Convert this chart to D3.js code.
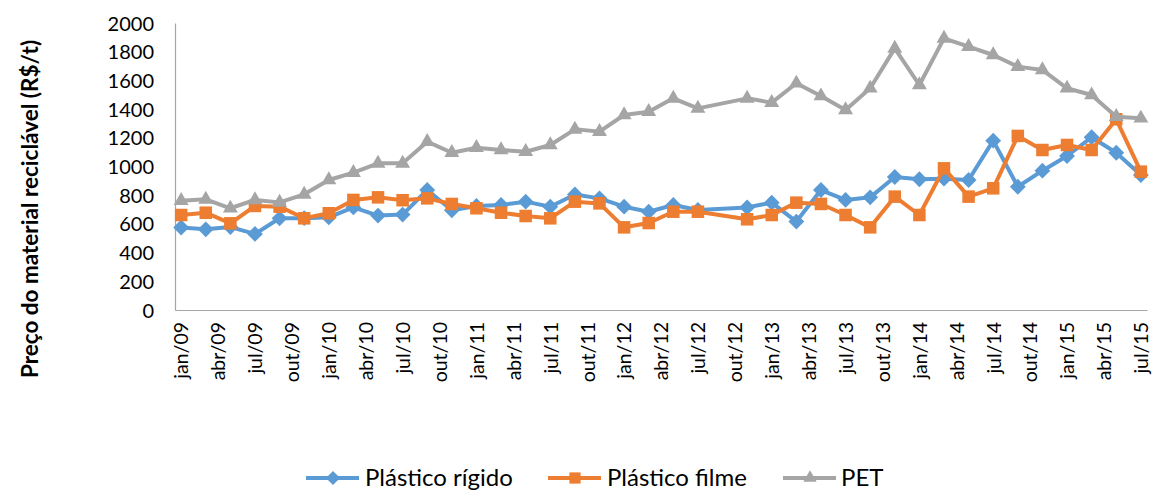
<!DOCTYPE html>
<html>
<head>
<meta charset="utf-8">
<script src="https://cdn.jsdelivr.net/npm/d3@7"></script>
<style>
  html, body { margin: 0; padding: 0; background: #fff; }
  svg { display: block; }
  text { font-family: Lato, "Open Sans", sans-serif; fill: #000; }
</style>
</head>
<body>
<svg id="chart" width="1153" height="490"></svg>
<script>
// Monthly category axis, jan/09 .. jul/15
const monthNames = ["jan", "fev", "mar", "abr", "mai", "jun", "jul", "ago", "set", "out", "nov", "dez"];
const months = [];
for (let y = 9; y <= 15; y++) {
  for (let m = 0; m < 12; m++) {
    if (y === 15 && m > 6) break;
    months.push(monthNames[m] + "/" + String(y).padStart(2, "0"));
  }
}

// Labelled every three months
const tickLabels = months.filter((d, i) => i % 3 === 0);

// Survey dates (bimonthly, set/12 missing)
const dates = [
  "jan/09", "mar/09", "mai/09", "jul/09", "set/09", "nov/09",
  "jan/10", "mar/10", "mai/10", "jul/10", "set/10", "nov/10",
  "jan/11", "mar/11", "mai/11", "jul/11", "set/11", "nov/11",
  "jan/12", "mar/12", "mai/12", "jul/12", "nov/12",
  "jan/13", "mar/13", "mai/13", "jul/13", "set/13", "nov/13",
  "jan/14", "mar/14", "mai/14", "jul/14", "set/14", "nov/14",
  "jan/15", "mar/15", "mai/15", "jul/15"
];

const plasticoRigido = [
  575, 562, 578, 530, 639, 640,
  646, 715, 658, 665, 836, 695,
  725, 732, 755, 720, 805, 778,
  720, 685, 732, 697, 715,
  748, 616, 836, 767, 785, 927,
  911, 915, 906, 1180, 859, 971,
  1073, 1204, 1096, 941
];

const plasticoFilme = [
  662, 678, 604, 725, 720, 639,
  674, 767, 785, 765, 778, 739,
  709, 678, 655, 639, 755, 743,
  576, 606, 685, 685, 632,
  662, 748, 739, 662, 576, 790,
  662, 987, 790, 848, 1213, 1115,
  1150, 1115, 1329, 964
];

const pet = [
  762, 771, 709, 767, 750, 806,
  906, 957, 1022, 1022, 1173, 1096,
  1131, 1115, 1103, 1150, 1259, 1243,
  1359, 1382, 1475, 1405, 1475,
  1445, 1580, 1491, 1394, 1545, 1823,
  1568, 1893, 1835, 1777, 1696, 1673,
  1545, 1498, 1347, 1336
];

const yTicks = [0, 200, 400, 600, 800, 1000, 1200, 1400, 1600, 1800, 2000];

const series = [
  { name: "Plástico rígido", values: plasticoRigido, color: "#5B9BD5", symbol: d3.symbolDiamond2, size: 160 },
  { name: "Plástico filme", values: plasticoFilme, color: "#ED7D31", symbol: d3.symbolSquare2, size: 200 },
  { name: "PET", values: pet, color: "#A5A5A5", symbol: d3.symbolTriangle2, size: 160 }
];

const plot = { left: 175, right: 1147, top: 23, bottom: 310 };
const svg = d3.select("#chart");

const x = d3.scalePoint().domain(months).range([plot.left, plot.right]).padding(0.5);
const y = d3.scaleLinear().domain([0, 2000]).range([plot.bottom, plot.top]);

// Y axis
const yAxis = svg.append("g")
  .attr("transform", `translate(${plot.left},0)`)
  .call(d3.axisLeft(y).tickValues(yTicks).tickSize(0).tickPadding(21).tickFormat(d3.format("d")));
yAxis.select(".domain").attr("stroke", "#A6A6A6").attr("stroke-width", 1.2);
yAxis.selectAll("text").style("font-size", "20px").attr("dy", "0.35em");

// X axis
const xAxis = svg.append("g")
  .attr("transform", `translate(0,${plot.bottom})`)
  .call(d3.axisBottom(x).tickValues(tickLabels).tickSize(0).tickPadding(0));
xAxis.select(".domain").attr("stroke", "#A6A6A6").attr("stroke-width", 1.2);
xAxis.selectAll("text")
  .style("font-size", "19.5px")
  .attr("text-anchor", "end")
  .attr("transform", "rotate(-90)")
  .attr("x", -12)
  .attr("y", 0)
  .attr("dy", "0.35em");

// Axis title
svg.append("text")
  .attr("transform", "translate(38,209) rotate(-90)")
  .attr("text-anchor", "middle")
  .style("font-size", "22.5px")
  .style("font-weight", "bold")
  .text("Preço do material reciclável (R$/t)");

// Series lines and markers
const line = d3.line().x(d => x(d.date)).y(d => y(d.value));

series.forEach(s => {
  const pts = dates.map((d, i) => ({ date: d, value: s.values[i] }));
  const g = svg.append("g");
  g.append("path")
    .datum(pts)
    .attr("fill", "none")
    .attr("stroke", s.color)
    .attr("stroke-width", 4)
    .attr("stroke-linejoin", "round")
    .attr("d", line);
  g.selectAll("path.marker")
    .data(pts)
    .join("path")
    .attr("class", "marker")
    .attr("transform", d => `translate(${x(d.date)},${y(d.value)})`)
    .attr("d", d3.symbol().type(s.symbol).size(s.size))
    .attr("fill", s.color);
});

// Legend
const legendItems = [
  { x0: 306, tx: 365 },
  { x0: 548, tx: 607 },
  { x0: 783, tx: 841 }
];
const legendY = 478;
series.forEach((s, i) => {
  const li = legendItems[i];
  const g = svg.append("g");
  g.append("line")
    .attr("x1", li.x0).attr("x2", li.x0 + 53)
    .attr("y1", legendY).attr("y2", legendY)
    .attr("stroke", s.color).attr("stroke-width", 4);
  g.append("path")
    .attr("transform", `translate(${li.x0 + 27},${legendY})`)
    .attr("d", d3.symbol().type(s.symbol).size(s.size * 0.8))
    .attr("fill", s.color);
  g.append("text")
    .attr("x", li.tx).attr("y", legendY)
    .attr("dy", "0.35em")
    .style("font-size", "24px")
    .text(s.name);
});
</script>
</body>
</html>
